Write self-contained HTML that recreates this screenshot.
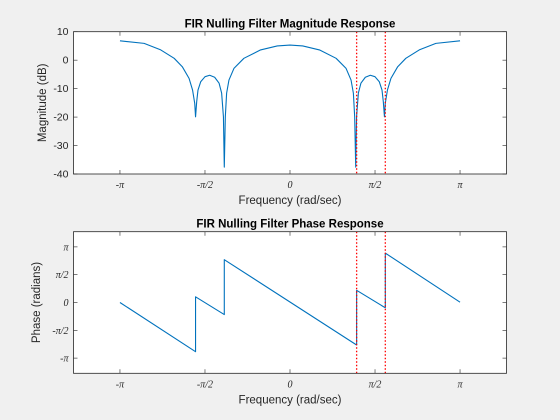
<!DOCTYPE html>
<html><head><meta charset="utf-8"><style>
body{margin:0;background:#f0f0f0;width:560px;height:420px;overflow:hidden}
svg{display:block;font-family:"Liberation Sans",sans-serif}
</style></head><body>
<svg id="fig" width="560" height="420"></svg>
<script>
const magFreq=[-3.1416,-2.695,-2.388,-2.14,-1.99,-1.865,-1.80,-1.76,-1.745,-1.724,-1.70,-1.65,-1.57,-1.484,-1.392,-1.31,-1.263,-1.23,-1.214,-1.195,-1.171,-1.128,-1.036,-0.852,-0.544,-0.236,0,0.236,0.544,0.852,1.036,1.128,1.171,1.195,1.214,1.23,1.263,1.31,1.392,1.484,1.57,1.65,1.70,1.724,1.745,1.76,1.80,1.865,1.99,2.14,2.388,2.695,3.1416];
const magDb=[6.8,5.9,3.6,0.65,-2.3,-6.4,-10.5,-15.2,-19.9,-14.6,-10.5,-7.6,-5.8,-5.3,-6.0,-8.1,-11.6,-19.9,-37.6,-19.9,-11.6,-7.0,-2.9,0.65,3.6,5.0,5.3,5.0,3.6,0.65,-2.9,-7.0,-11.6,-19.9,-37.6,-19.9,-11.6,-8.1,-6.0,-5.3,-5.8,-7.6,-10.5,-14.6,-19.9,-15.2,-10.5,-6.4,-2.3,0.65,3.6,5.9,6.8];
const phFreq=[-3.1416,-1.745,-1.745,-1.214,-1.214,1.231,1.231,1.761,1.761,3.1416];
const phRad=[0,-2.78,0.32,-0.68,2.42,-2.40,0.69,-0.30,2.79,0.02];
const nullFreq=[1.231,1.761];
const xTickVals=[-Math.PI,-Math.PI/2,0,Math.PI/2,Math.PI];
const xTickLabels=["-π","-π/2","0","π/2","π"];
const magTicks=[10,0,-10,-20,-30,-40];
const phTickVals=[Math.PI,Math.PI/2,0,-Math.PI/2,-Math.PI];
const phTickLabels=["π","π/2","0","-π/2","-π"];

const NS="http://www.w3.org/2000/svg";
const svg=document.getElementById('fig');
function mk(tag,attrs,parent,text){const e=document.createElementNS(NS,tag);for(const k in attrs)e.setAttribute(k,attrs[k]);if(text!==undefined)e.textContent=text;(parent||svg).appendChild(e);return e;}

function axes(o){
  const g=mk('g',{});
  
  
  const L=73.5,R=506.5,T=o.top,B=o.bottom;
  const sx=v=>L+(v+4)/8*(R-L);
  const sy=v=>B-(v-o.ymin)/(o.ymax-o.ymin)*(B-T);
  mk('rect',{x:L,y:T,width:R-L,height:B-T,fill:'#fff'},g);
  xTickVals.forEach((v,i)=>{const x=sx(v);
    mk('line',{x1:x,x2:x,y1:B,y2:B-4,stroke:'#262626','stroke-width':0.6},g);
    mk('line',{x1:x,x2:x,y1:T,y2:T+4,stroke:'#262626','stroke-width':0.6},g);
    const t=mk('text',{x:x,y:B+14,'text-anchor':'middle','font-size':10,fill:'#262626','font-family':'"Liberation Serif",serif','font-style':'italic'},g,xTickLabels[i]);
    
    
  });
  o.yt.forEach((v,i)=>{const y=sy(v);
    mk('line',{x1:L,x2:L+4,y1:y,y2:y,stroke:'#262626','stroke-width':0.6},g);
    mk('line',{x1:R,x2:R-4,y1:y,y2:y,stroke:'#262626','stroke-width':0.6},g);
    const t=mk('text',{x:L-5,y:y+3.5,'text-anchor':'end','font-size':o.serif?10:10.5,fill:'#262626','font-family':o.serif?'"Liberation Serif",serif':'"Liberation Sans",sans-serif','font-style':o.serif?'italic':'normal'},g,o.yl[i]);
    
    
  });
  const d=o.xs.map((v,i)=>(i?'L':'M')+sx(v).toFixed(2)+','+sy(o.ys[i]).toFixed(2)).join(' ');
  const p=mk('path',{d:d,fill:'none',stroke:'#0072bd','stroke-width':1.1,'stroke-linejoin':'round'},g);
  
  
  nullFreq.forEach(f=>{const l=mk('line',{x1:sx(f),x2:sx(f),y1:T,y2:B,stroke:'#ff0000','stroke-width':1.3,'stroke-dasharray':'1.5,2'},g);
    
    });
  mk('rect',{x:L,y:T,width:R-L,height:B-T,fill:'none',stroke:'#262626','stroke-width':0.8},g);
  const ti=mk('text',{x:290,y:T-4,'text-anchor':'middle','font-size':11.5,'font-weight':'bold',fill:'#000'},g,o.title);
  
  
  const xl=mk('text',{x:290,y:B+30,'text-anchor':'middle','font-size':11.5,fill:'#262626'},g,'Frequency (rad/sec)');
  
  
  const cy=(T+B)/2;
  const yl=mk('text',{x:o.ylx,y:cy,'text-anchor':'middle','font-size':11.5,fill:'#262626',transform:`rotate(-90 ${o.ylx} ${cy})`},g,o.ylabel);
  
  
}
axes({name:'magnitude-axes',top:31.7,bottom:174,ymin:-40,ymax:10,yt:magTicks,yl:magTicks.map(String),xs:magFreq,ys:magDb,lineName:'magnitude-line',title:'FIR Nulling Filter Magnitude Response',ylabel:'Magnitude (dB)',ylx:46});
axes({name:'phase-axes',top:231.7,bottom:373.3,ymin:-4,ymax:4,yt:phTickVals,yl:phTickLabels,serif:true,xs:phFreq,ys:phRad,lineName:'phase-line',title:'FIR Nulling Filter Phase Response',ylabel:'Phase (radians)',ylx:40});
</script>
</body></html>
